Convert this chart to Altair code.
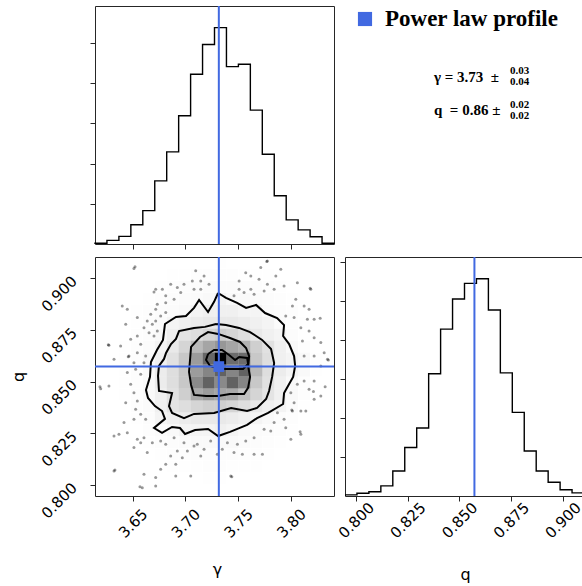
import altair as alt
import numpy as np
import pandas as pd

# Sampling ranges shared by every histogram and axis limit
GAMMA_RANGE = [3.6143, 3.8407]
Q_RANGE = [0.7947, 0.9103]

# Posterior summary: best value, upper and lower error
GAMMA_BEST, GAMMA_UP, GAMMA_DOWN = 3.7316, 0.03, 0.04
Q_BEST, Q_UP, Q_DOWN = 0.8573, 0.02, 0.02

GAMMA_TICKS = [3.65, 3.70, 3.75, 3.80]
Q_TICKS = [0.800, 0.825, 0.850, 0.875, 0.900]
GAMMA_COUNT_TICKS = [100, 200, 300, 400, 500]
Q_COUNT_TICKS = [100, 200, 300, 400, 500, 600]

# 1-D marginal histograms (20 bins each)
gamma_counts = [2, 9, 19, 48, 83, 157, 229, 319, 422, 496,
                538, 441, 447, 333, 223, 120, 60, 35, 18, 2]
q_counts = [3, 7, 11, 26, 64, 124, 174, 313, 427, 504,
            544, 556, 476, 315, 214, 115, 64, 35, 16, 8]

# 2-D histogram, one row per q bin from the highest q down, gamma bins left to right
joint_counts = [
    [0, 0, 0, 0, 0, 0, 1, 1, 1, 1, 2, 1, 1, 1, 1, 0, 0, 0, 0, 0],
    [0, 0, 0, 0, 1, 1, 2, 2, 3, 3, 3, 3, 2, 2, 2, 1, 1, 0, 0, 0],
    [0, 0, 0, 1, 1, 2, 3, 4, 4, 5, 5, 5, 4, 4, 3, 2, 1, 1, 0, 0],
    [0, 0, 1, 1, 2, 3, 4, 5, 5, 6, 9, 6, 6, 5, 4, 3, 2, 1, 0, 0],
    [0, 0, 1, 2, 3, 4, 5, 6, 9, 11, 11, 11, 9, 9, 5, 4, 3, 1, 1, 0],
    [0, 1, 1, 2, 3, 5, 9, 11, 13, 14, 14, 14, 13, 11, 9, 5, 3, 2, 1, 0],
    [0, 1, 1, 3, 4, 6, 11, 16, 18, 21, 23, 21, 18, 14, 11, 9, 4, 2, 1, 0],
    [0, 1, 2, 3, 5, 9, 14, 21, 29, 34, 37, 34, 31, 23, 17, 11, 6, 3, 1, 0],
    [0, 1, 2, 3, 6, 11, 17, 25, 36, 47, 65, 46, 46, 25, 18, 11, 9, 6, 2, 0],
    [0, 1, 2, 3, 6, 13, 18, 25, 36, 41, 48, 41, 48, 29, 18, 13, 9, 6, 2, 0],
    [0, 1, 2, 3, 6, 13, 18, 25, 40, 48, 40, 48, 41, 25, 17, 11, 6, 3, 1, 0],
    [0, 1, 2, 3, 6, 11, 17, 23, 33, 36, 34, 33, 27, 21, 16, 11, 6, 3, 1, 0],
    [0, 1, 1, 3, 5, 11, 16, 18, 21, 23, 23, 21, 18, 14, 11, 9, 5, 2, 1, 0],
    [0, 0, 1, 2, 4, 9, 11, 13, 14, 14, 14, 13, 11, 9, 6, 4, 3, 1, 0, 0],
    [0, 0, 1, 1, 3, 5, 6, 9, 9, 9, 11, 9, 6, 5, 4, 3, 2, 1, 0, 0],
    [0, 0, 0, 1, 2, 3, 4, 5, 6, 6, 6, 6, 5, 4, 3, 2, 1, 0, 0, 0],
    [0, 0, 0, 1, 1, 2, 3, 3, 4, 4, 4, 4, 3, 3, 2, 1, 1, 0, 0, 0],
    [0, 0, 0, 0, 1, 1, 2, 2, 2, 3, 3, 2, 2, 2, 1, 1, 0, 0, 0, 0],
    [0, 0, 0, 0, 0, 1, 1, 1, 1, 2, 2, 1, 1, 1, 1, 0, 0, 0, 0, 0],
    [0, 0, 0, 0, 0, 0, 0, 1, 1, 1, 1, 1, 1, 0, 0, 0, 0, 0, 0, 0],
]

# Credible-region contours (0.5, 1, 1.5 and 2 sigma), closed paths in (gamma, q)
contour_2s_g = [3.7309, 3.7384, 3.7489, 3.7574, 3.7669, 3.7754, 3.7868, 3.7934, 3.7925, 3.7982,
                3.8029, 3.8039, 3.8020, 3.7982, 3.7934, 3.7925, 3.7783, 3.7678, 3.7584, 3.7422,
                3.7309, 3.7214, 3.7091, 3.6996, 3.6948, 3.6873, 3.6778, 3.6702, 3.6806, 3.6778,
                3.6711, 3.6645, 3.6626, 3.6664, 3.6673, 3.6730, 3.6787, 3.6806, 3.6910, 3.7005,
                3.7081, 3.7129, 3.7214, 3.7271, 3.7309]
contour_2s_q = [0.8929, 0.8905, 0.8881, 0.8857, 0.8871, 0.8832, 0.8808, 0.8774, 0.8721, 0.8682,
                0.8624, 0.8576, 0.8523, 0.8489, 0.8445, 0.8392, 0.8349, 0.8324, 0.8291, 0.8257,
                0.8237, 0.8271, 0.8266, 0.8247, 0.8276, 0.8281, 0.8252, 0.8276, 0.8320, 0.8358,
                0.8382, 0.8421, 0.8460, 0.8523, 0.8595, 0.8653, 0.8702, 0.8779, 0.8813, 0.8818,
                0.8857, 0.8895, 0.8837, 0.8886, 0.8929]
contour_15s_g = [3.7290, 3.7384, 3.7508, 3.7612, 3.7726, 3.7811, 3.7840, 3.7821, 3.7792, 3.7764,
                 3.7678, 3.7584, 3.7432, 3.7271, 3.7081, 3.6986, 3.6873, 3.6844, 3.6873, 3.6749,
                 3.6740, 3.6749, 3.6797, 3.6816, 3.6863, 3.6910, 3.6939, 3.7081, 3.7185, 3.7290]
contour_15s_q = [0.8779, 0.8774, 0.8760, 0.8740, 0.8702, 0.8658, 0.8590, 0.8523, 0.8455, 0.8416,
                 0.8373, 0.8358, 0.8373, 0.8349, 0.8344, 0.8324, 0.8349, 0.8382, 0.8445, 0.8455,
                 0.8528, 0.8576, 0.8610, 0.8639, 0.8682, 0.8707, 0.8745, 0.8760, 0.8765, 0.8779]
contour_1s_g = [3.7309, 3.7422, 3.7517, 3.7574, 3.7603, 3.7593, 3.7612, 3.7593, 3.7555, 3.7422,
                3.7309, 3.7195, 3.7081, 3.7053, 3.7034, 3.7043, 3.7053, 3.7138, 3.7214, 3.7309]
contour_1s_q = [0.8731, 0.8711, 0.8692, 0.8663, 0.8624, 0.8576, 0.8523, 0.8470, 0.8440, 0.8440,
                0.8431, 0.8431, 0.8436, 0.8484, 0.8547, 0.8605, 0.8668, 0.8716, 0.8740, 0.8731]
contour_05s_g = [3.7214, 3.7271, 3.7347, 3.7413, 3.7470, 3.7508, 3.7584, 3.7593, 3.7546, 3.7441,
                 3.7328, 3.7233, 3.7195, 3.7214]
contour_05s_q = [0.8634, 0.8653, 0.8653, 0.8629, 0.8605, 0.8619, 0.8615, 0.8586, 0.8561, 0.8561,
                 0.8561, 0.8576, 0.8605, 0.8634]

# Samples lying outside the outermost contour
sample_g = [3.6512, 3.6718, 3.6702, 3.6781, 3.6813, 3.6860, 3.6923, 3.6986, 3.7065, 3.7145,
            3.7081, 3.6955, 3.6892, 3.6813, 3.6733, 3.6718, 3.6671, 3.6638, 3.6686, 3.6607,
            3.6544, 3.6449, 3.6401, 3.6434, 3.6544, 3.6481, 3.6386, 3.6275, 3.6465, 3.6544,
            3.6623, 3.6607, 3.6449, 3.6528, 3.6576, 3.6702, 3.6733, 3.6655, 3.6576, 3.7145,
            3.7223, 3.7176, 3.7097, 3.6765, 3.6813, 3.6718, 3.6323, 3.6512,
            3.7776, 3.7713, 3.7571, 3.7508, 3.7619, 3.7697, 3.7776, 3.7856, 3.7934, 3.7840,
            3.7619, 3.7555, 3.7508, 3.7460, 3.7745, 3.7650, 3.8045, 3.8013, 3.8124, 3.8171,
            3.8219, 3.8155, 3.8029, 3.7950, 3.8093, 3.8171, 3.8219, 3.8282, 3.8314, 3.8219,
            3.8282, 3.8108, 3.8124, 3.8345, 3.8187, 3.8060, 3.7903,
            3.6197, 3.6275, 3.6481, 3.6512, 3.6544, 3.6434, 3.6528, 3.6576, 3.6623, 3.6512,
            3.6418, 3.6323, 3.6370, 3.6449, 3.6544, 3.6607, 3.6686, 3.6765, 3.6813, 3.6892,
            3.6986, 3.7081, 3.7112, 3.7176, 3.7018, 3.6923, 3.6860, 3.6813, 3.6908, 3.6765,
            3.6607, 3.6323, 3.6718, 3.6591, 3.6718, 3.6908, 3.7050, 3.6576, 3.6512, 3.6638,
            3.7239, 3.7145, 3.6970,
            3.8124, 3.8171, 3.8219, 3.8060, 3.7998, 3.8029, 3.8013, 3.8093, 3.8140, 3.7934,
            3.7840, 3.7808, 3.7745, 3.7650, 3.7571, 3.7492, 3.7397, 3.7349, 3.7302, 3.7460,
            3.7539, 3.7650, 3.7729, 3.7998, 3.8093, 3.7429, 3.7950, 3.7871, 3.8219, 3.8282,
            3.6522, 3.6190, 3.6332, 3.6569, 3.7770, 3.8181, 3.8276, 3.8354, 3.7439, 3.8212,
            3.8086, 3.8007, 3.6269, 3.6458, 3.8323]
sample_q = [0.9047, 0.8947, 0.8934, 0.8947, 0.8915, 0.8971, 0.8955, 0.8971, 0.8987, 0.8987,
            0.8947, 0.8931, 0.8899, 0.8882, 0.8874, 0.8850, 0.8826, 0.8794, 0.8778, 0.8761,
            0.8810, 0.8850, 0.8866, 0.8778, 0.8721, 0.8705, 0.8673, 0.8676, 0.8624, 0.8640,
            0.8624, 0.8592, 0.8544, 0.8560, 0.8536, 0.8721, 0.8745, 0.8737, 0.8681, 0.8947,
            0.8971, 0.9011, 0.9036, 0.8818, 0.8834, 0.8794, 0.8608, 0.8592,
            0.9084, 0.9052, 0.9027, 0.8987, 0.9011, 0.8995, 0.8971, 0.9011, 0.8963, 0.8947,
            0.8947, 0.8931, 0.8947, 0.8915, 0.8939, 0.8923, 0.8899, 0.8866, 0.8866, 0.8850,
            0.8802, 0.8802, 0.8810, 0.8818, 0.8761, 0.8745, 0.8713, 0.8689, 0.8640, 0.8624,
            0.8576, 0.8697, 0.8624, 0.8608, 0.8947, 0.8979, 0.9044,
            0.8466, 0.8479, 0.8487, 0.8447, 0.8407, 0.8398, 0.8366, 0.8342, 0.8318, 0.8318,
            0.8302, 0.8237, 0.8246, 0.8253, 0.8221, 0.8229, 0.8205, 0.8213, 0.8197, 0.8229,
            0.8205, 0.8189, 0.8197, 0.8173, 0.8165, 0.8165, 0.8141, 0.8100, 0.8100, 0.8076,
            0.8052, 0.8068, 0.8036, 0.7987, 0.7995, 0.8044, 0.8044, 0.8205, 0.8181, 0.8157,
            0.8213, 0.8141, 0.8132,
            0.8503, 0.8463, 0.8415, 0.8487, 0.8447, 0.8398, 0.8358, 0.8358, 0.8358, 0.8318,
            0.8302, 0.8261, 0.8270, 0.8229, 0.8213, 0.8197, 0.8205, 0.8173, 0.8149, 0.8157,
            0.8149, 0.8149, 0.8149, 0.8221, 0.8246, 0.8044, 0.8277, 0.8350, 0.8503, 0.8431,
            0.9056, 0.8476, 0.8073, 0.7992, 0.9081, 0.8952, 0.8807, 0.8605, 0.8040, 0.8452,
            0.8258, 0.8363, 0.8678, 0.8621, 0.8476]

BLUE = "#4169e1"
INK = "#262626"
LABEL_FONT = "DejaVu Sans"
SERIF = "Liberation Serif"

LEFT_W, RIGHT_W = 239, 237
TOP_H, BOTTOM_H = 238, 239
PAGE_W, PAGE_H = 582, 586
PAD_LEFT, PAD_TOP = 95, 6


def step_frame(lo, hi, counts):
    """Outline of a step histogram: rises at the first edge, drops at the last."""
    edges = np.linspace(lo, hi, len(counts) + 1)
    xs = [edges[0]] + list(edges[:-1]) + [edges[-1]]
    ys = [0] + list(counts) + [0]
    return pd.DataFrame({"v": xs, "n": ys, "i": range(len(xs))})


gamma_step = step_frame(GAMMA_RANGE[0], GAMMA_RANGE[1], gamma_counts)
q_step = step_frame(Q_RANGE[0], Q_RANGE[1], q_counts)

g_edges = np.linspace(GAMMA_RANGE[0], GAMMA_RANGE[1], len(joint_counts[0]) + 1)
q_edges = np.linspace(Q_RANGE[0], Q_RANGE[1], len(joint_counts) + 1)
cells = []
n_rows = len(joint_counts)
for r, row in enumerate(joint_counts):
    j = n_rows - 1 - r
    for i, c in enumerate(row):
        cells.append({"g0": g_edges[i], "g1": g_edges[i + 1],
                      "q0": q_edges[j], "q1": q_edges[j + 1], "count": c})
cells = pd.DataFrame(cells)
count_max = max(max(r) for r in joint_counts)

contours = []
for name, gs, qs in [("2.0", contour_2s_g, contour_2s_q),
                     ("1.5", contour_15s_g, contour_15s_q),
                     ("1.0", contour_1s_g, contour_1s_q),
                     ("0.5", contour_05s_g, contour_05s_q)]:
    for k, (g, q) in enumerate(zip(gs, qs)):
        contours.append({"level": name, "i": k, "g": g, "q": q})
contours = pd.DataFrame(contours)

samples = pd.DataFrame({"g": sample_g, "q": sample_q})
best = pd.DataFrame({"g": [GAMMA_BEST], "q": [Q_BEST]})

gamma_scale = alt.Scale(domain=GAMMA_RANGE, nice=False, zero=False)
q_scale = alt.Scale(domain=Q_RANGE, nice=False, zero=False)
q_view_hi = Q_RANGE[0] + (Q_RANGE[1] - Q_RANGE[0]) * RIGHT_W / LEFT_W
q_scale_right = alt.Scale(domain=[Q_RANGE[0], q_view_hi], nice=False, zero=False)

tick_style = dict(domain=False, grid=False, tickSize=5, tickColor=INK, tickWidth=1,
                  labelFont=LABEL_FONT, labelFontSize=15, labelColor="black",
                  labelOverlap=False, labelFlush=False,
                  titleFont=LABEL_FONT, titleFontSize=16, titleColor="black",
                  titleFontWeight="normal")

# --- top: gamma marginal ---
top_hist = alt.layer(
    alt.Chart(gamma_step).mark_line(color="black", strokeWidth=1.4,
                                    interpolate="step-after").encode(
        x=alt.X("v:Q", scale=gamma_scale,
                axis=alt.Axis(values=GAMMA_TICKS, labels=False, title="", **tick_style)),
        y=alt.Y("n:Q", scale=alt.Scale(domain=[0, 1.1 * max(gamma_counts)], nice=False),
                axis=alt.Axis(values=GAMMA_COUNT_TICKS, labels=False, title="", **tick_style)),
        order="i:Q",
    ),
    alt.Chart(best).mark_rule(color=BLUE, strokeWidth=2).encode(x="g:Q"),
).properties(width=LEFT_W, height=TOP_H)

# --- top right: legend and summary numbers ---
annot_src = pd.DataFrame({"k": [0]})


def label(text, x, y, size, font=SERIF):
    return alt.Chart(annot_src).mark_text(
        align="left", baseline="alphabetic", font=font, fontSize=size,
        fontWeight="bold", color="black"
    ).encode(x=alt.value(x), y=alt.value(y), text=alt.value(text))


annot = alt.layer(
    alt.Chart(annot_src).mark_square(size=200, color=BLUE, opacity=1).encode(
        x=alt.value(20), y=alt.value(13)),
    label("Power law profile", 40, 20, 23),
    label(f"\u03b3 = {GAMMA_BEST:.2f}\u00a0 \u00b1", 89, 76, 15),
    label(f"{GAMMA_UP:.2f}", 165, 68, 11),
    label(f"{GAMMA_DOWN:.2f}", 165, 79, 11),
    label(f"q\u00a0 = {Q_BEST:.2f} \u00b1", 89, 109, 15),
    label(f"{Q_UP:.2f}", 165, 102, 11),
    label(f"{Q_DOWN:.2f}", 165, 113, 11),
).properties(width=RIGHT_W, height=TOP_H, view=alt.ViewBackground(strokeOpacity=0))

# --- bottom left: joint distribution ---
joint_x = alt.Axis(values=GAMMA_TICKS, format=".2f", labelAngle=315, labelAlign="center",
                   labelBaseline="middle", labelPadding=22, title="\u03b3",
                   titleX=122, titleY=78, titleBaseline="alphabetic", **tick_style)
joint_y = alt.Axis(values=Q_TICKS, format=".3f", labelAngle=315, labelAlign="right",
                   labelBaseline="middle", labelPadding=16, title="q",
                   titleX=-77, titleY=BOTTOM_H / 2, titleAngle=270,
                   titleBaseline="middle", **tick_style)

joint = alt.layer(
    alt.Chart(samples).mark_circle(size=9, color="black", opacity=0.4).encode(
        x=alt.X("g:Q", scale=gamma_scale, axis=joint_x),
        y=alt.Y("q:Q", scale=q_scale, axis=joint_y),
    ),
    alt.Chart(cells).mark_rect(color="black", strokeWidth=0).encode(
        x="g0:Q", x2="g1:Q", y="q0:Q", y2="q1:Q",
        opacity=alt.Opacity("count:Q", scale=alt.Scale(type="pow", exponent=1.6,
                                                       domain=[0, count_max], range=[0, 1])),
    ),
    alt.Chart(contours).mark_line(color="black", strokeWidth=2).encode(
        x="g:Q", y="q:Q", detail="level:N", order="i:Q"),
    alt.Chart(best).mark_rule(color=BLUE, strokeWidth=2).encode(x="g:Q"),
    alt.Chart(best).mark_rule(color=BLUE, strokeWidth=2).encode(y="q:Q"),
    alt.Chart(best).mark_square(size=115, color=BLUE, opacity=1).encode(x="g:Q", y="q:Q"),
).properties(width=LEFT_W, height=BOTTOM_H)

# --- bottom right: q marginal ---
right_hist = alt.layer(
    alt.Chart(q_step).mark_line(color="black", strokeWidth=1.4, interpolate="step-after",
                                clip=True).encode(
        x=alt.X("v:Q", scale=q_scale_right,
                axis=alt.Axis(values=Q_TICKS, format=".3f", labelAngle=315,
                              labelAlign="center", labelBaseline="middle",
                              labelPadding=19, title="q", titleX=120, titleY=83,
                              titleBaseline="alphabetic", **tick_style)),
        y=alt.Y("n:Q", scale=alt.Scale(domain=[0, 1.1 * max(q_counts)], nice=False),
                axis=alt.Axis(values=Q_COUNT_TICKS, labels=False, title="", **tick_style)),
        order="i:Q",
    ),
    alt.Chart(best).mark_rule(color=BLUE, strokeWidth=2).encode(x="q:Q"),
).properties(width=RIGHT_W, height=BOTTOM_H)

# With autosize "none" the page size is the padding alone, so the padding
# carries the full page while the grid starts at its top-left offset.
chart = (
    alt.concat(top_hist, annot, joint, right_hist, columns=2,
               spacing=alt.RowColnumber(row=13, column=11), bounds="flush")
    .properties(
        background="white",
        autosize=alt.AutoSizeParams(type="none"),
        padding={"left": PAD_LEFT, "top": PAD_TOP,
                 "right": PAGE_W - PAD_LEFT, "bottom": PAGE_H - PAD_TOP},
    )
    .configure_view(stroke=INK, strokeWidth=1)
    .configure_legend(disable=True)
)

chart.save("out.html", embed_options={"renderer": "svg", "actions": False})
